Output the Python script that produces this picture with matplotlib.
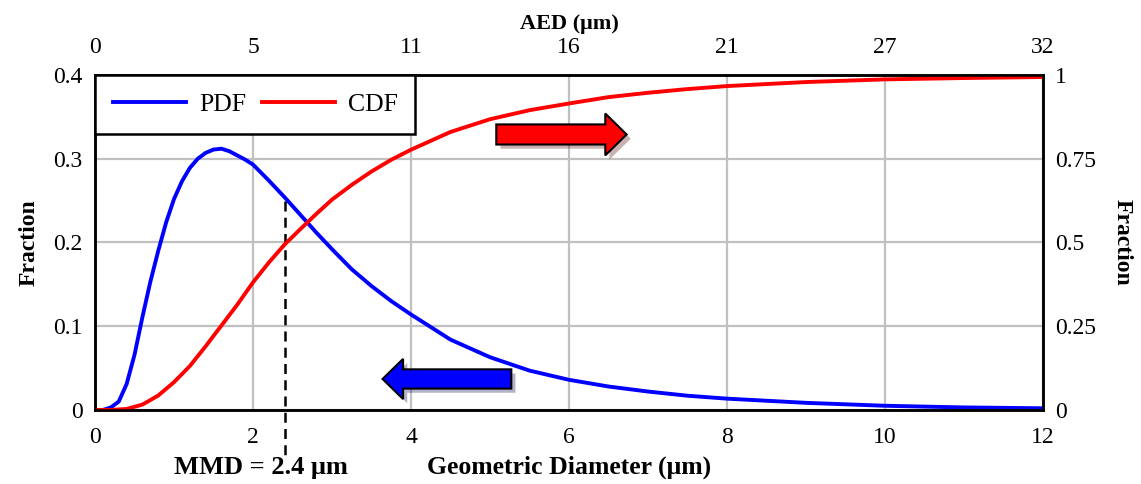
import matplotlib
matplotlib.use('Agg')
import matplotlib.pyplot as plt
import matplotlib.patheffects as pe
from matplotlib.patches import FancyArrow

plt.rcParams['font.family'] = ['Liberation Serif', 'DejaVu Serif']

# Geometric diameter (um) and the PDF
pdf_x = [0, 0.1, 0.2, 0.3, 0.4, 0.5, 0.6, 0.7, 0.8, 0.9, 1.0, 1.1, 1.2, 1.3, 1.4,
         1.5, 1.6, 1.7, 1.8, 1.9, 2.0, 2.2, 2.4, 2.6, 2.8, 3.0, 3.25, 3.5, 3.75,
         4.0, 4.5, 5.0, 5.5, 6.0, 6.5, 7.0, 7.5, 8.0, 9.0, 10.0, 11.0, 12.0]
pdf_y = [0, 0, 0.003, 0.01, 0.031, 0.066, 0.111, 0.153, 0.19, 0.224, 0.252, 0.273,
         0.289, 0.300, 0.307, 0.311, 0.312, 0.309, 0.304, 0.299, 0.293, 0.274,
         0.254, 0.233, 0.212, 0.192, 0.168, 0.148, 0.130, 0.114, 0.084, 0.063,
         0.047, 0.036, 0.028, 0.022, 0.017, 0.0135, 0.0085, 0.005, 0.003, 0.002]

# CDF (right axis)
cdf_x = [0, 0.2, 0.4, 0.6, 0.8, 1.0, 1.2, 1.4, 1.6, 1.8, 2.0, 2.2, 2.4, 2.6, 2.8,
         3.0, 3.25, 3.5, 3.75, 4.0, 4.5, 5.0, 5.5, 6.0, 6.5, 7.0, 7.5, 8.0, 9.0,
         10.0, 11.0, 12.0]
cdf_y = [0, 0, 0.003, 0.016, 0.043, 0.083, 0.131, 0.19, 0.252, 0.314, 0.381, 0.44,
         0.494, 0.54, 0.585, 0.628, 0.672, 0.712, 0.747, 0.777, 0.83, 0.868, 0.895,
         0.915, 0.934, 0.947, 0.958, 0.967, 0.979, 0.987, 0.991, 0.994]

geo_ticks = [0, 2, 4, 6, 8, 10, 12]
aed_labels = ['0', '5', '11', '16', '21', '27', '32']
left_ticks = [0, 0.1, 0.2, 0.3, 0.4]
left_labels = ['0', '0.1', '0.2', '0.3', '0.4']
right_ticks = [0, 0.25, 0.5, 0.75, 1]
right_labels = ['0', '0.25', '0.5', '0.75', '1']
mmd = 2.4

fig = plt.figure(figsize=(11.41, 4.84), dpi=100)
ax = fig.add_axes([0.0833, 0.153, 0.8307, 0.692])
ax2 = ax.twinx()

ax.set_xlim(0, 12)
ax.set_ylim(0, 0.4)
ax2.set_ylim(0, 1)

# grid
ax.set_xticks(geo_ticks)
ax.set_yticks(left_ticks, labels=left_labels)
ax.grid(True, color='#c0c0c0', lw=1.6)
ax.set_axisbelow(True)

line_pdf, = ax.plot(pdf_x, pdf_y, color='#0000ff', lw=2.8, label='PDF')
line_cdf, = ax2.plot(cdf_x, cdf_y, color='#ff0000', lw=2.8, label='CDF')

# MMD dashed marker
ax.plot([mmd, mmd], [0.25, -0.055], color='black', lw=1.8, ls=(0, (4, 2.5)),
        clip_on=False, zorder=5)
ax.text(2.1, -0.0685, 'MMD = 2.4 μm', ha='center', va='center', fontsize=19,
        fontweight='bold', clip_on=False)

# arrows
shadow = [pe.SimplePatchShadow(offset=(3, -3), alpha=0.3), pe.Normal()]
red_arrow = FancyArrow(5.08, 0.329, 1.38, 0, width=0.024, head_width=0.05,
                       head_length=0.27, length_includes_head=False,
                       fc='#ff0000', ec='black', lw=1.5, zorder=6,
                       path_effects=shadow)
blue_arrow = FancyArrow(5.27, 0.037, -1.37, 0, width=0.023, head_width=0.048,
                        head_length=0.26, length_includes_head=False,
                        fc='#0000ff', ec='black', lw=1.5, zorder=6,
                        path_effects=shadow)
ax.add_patch(red_arrow)
ax.add_patch(blue_arrow)

# ticks and labels
ax.tick_params(axis='both', length=0, labelsize=17)
ax.tick_params(axis='x', pad=12)
ax.tick_params(axis='y', pad=9)
ax2.set_yticks(right_ticks, labels=right_labels)
ax2.tick_params(axis='y', length=0, labelsize=17, pad=9)
ax.set_xticklabels([str(t) for t in geo_ticks])

ax.set_ylabel('Fraction', fontsize=17, fontweight='bold', labelpad=10)
ax2.set_ylabel('Fraction', fontsize=17, fontweight='bold', rotation=270,
               labelpad=26)
ax.set_xlabel('Geometric Diameter (μm)', fontsize=18.5, fontweight='bold',
              labelpad=6)

top = ax.secondary_xaxis('top')
top.set_xticks(geo_ticks, labels=aed_labels)
top.tick_params(length=0, labelsize=17, pad=12)
top.set_xlabel('AED (μm)', fontsize=16, fontweight='bold', labelpad=6)
for s in top.spines.values():
    s.set_visible(False)

for a in (ax, ax2):
    for s in a.spines.values():
        s.set_linewidth(1.8)
        s.set_color('black')

leg = ax2.legend(handles=[line_pdf, line_cdf], loc='upper left',
                 bbox_to_anchor=(0, 1), borderaxespad=0, ncol=2, fontsize=18.5,
                 frameon=True, fancybox=False, framealpha=1, edgecolor='black',
                 handlelength=2.85, handletextpad=0.5, columnspacing=0.6,
                 borderpad=0.7)
leg.get_frame().set_linewidth(1.8)
leg.set_zorder(10)

fig.savefig('out.png', dpi=100)
